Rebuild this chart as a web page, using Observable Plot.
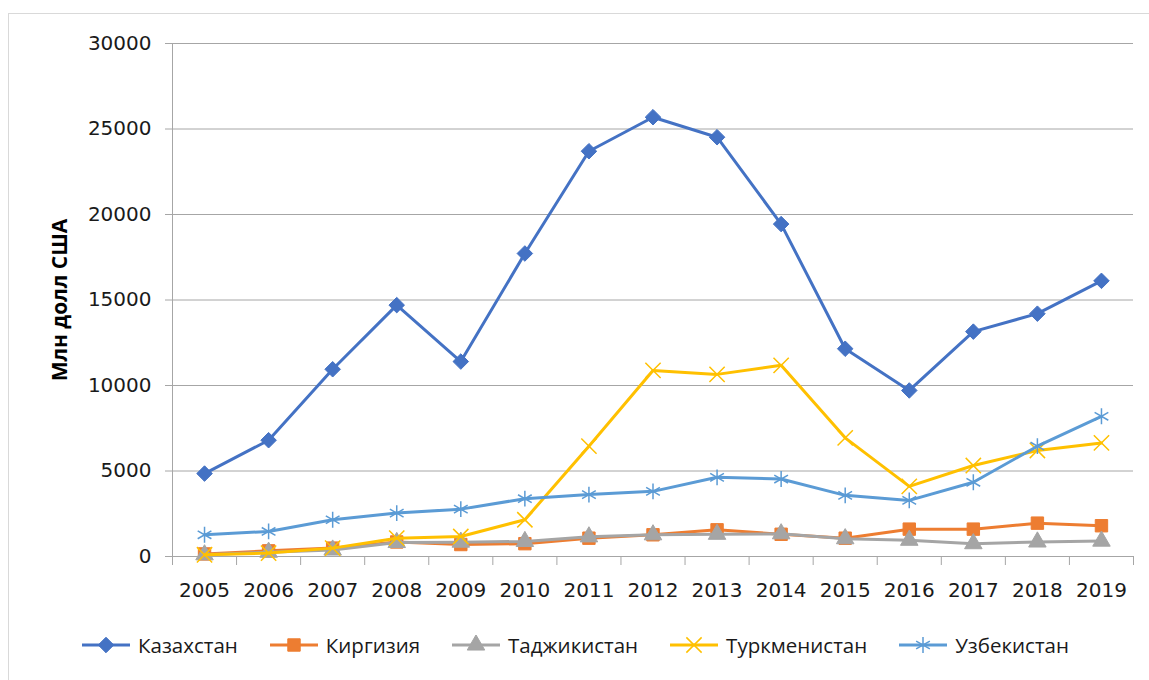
<!DOCTYPE html>
<html><head><meta charset="utf-8">
<script src="https://cdn.jsdelivr.net/npm/d3@7"></script>
<script src="https://cdn.jsdelivr.net/npm/@observablehq/plot@0.6"></script>
<style>
body{margin:0;background:#fff;font-family:"Open Sans",sans-serif;overflow:hidden;}
#frame{position:absolute;left:8px;top:13px;width:1200px;height:720px;border:1px solid #d9d9d9;}
#chart{position:absolute;left:0;top:0;}
#chart g[aria-label="y-axis label"] text{font-weight:bold;fill:#000;font-family:"Open Sans",sans-serif;font-size:21px;}
#legend{position:absolute;left:0;top:631px;width:1149px;display:flex;justify-content:center;align-items:center;font-size:20.5px;color:#1a1a1a;}
.item{display:flex;align-items:center;margin:0 15px;}
.item span{margin-left:6px;}
</style></head>
<body>
<div id="frame"></div>
<div id="chart"></div>
<div id="legend"></div>
<script>
const years = [2005,2006,2007,2008,2009,2010,2011,2012,2013,2014,2015,2016,2017,2018,2019];
const names = ["Казахстан","Киргизия","Таджикистан","Туркменистан","Узбекистан"];
const kazakhstan   = [4850,6800,10950,14700,11400,17720,23700,25690,24520,19440,12150,9710,13150,14200,16120];
const kyrgyzstan   = [150,330,490,850,700,750,1070,1270,1560,1300,1070,1600,1600,1950,1800];
const tajikistan   = [100,250,380,820,840,880,1150,1270,1300,1330,1040,950,750,850,900];
const turkmenistan = [100,200,490,1070,1170,2150,6450,10880,10650,11180,6940,4100,5320,6200,6640];
const uzbekistan   = [1270,1465,2150,2540,2770,3380,3620,3810,4630,4530,3575,3280,4340,6450,8200];
const yTicks = [0,5000,10000,15000,20000,25000,30000];

const seriesValues = [kazakhstan,kyrgyzstan,tajikistan,turkmenistan,uzbekistan];
const colors = ["#4472C4","#ED7D31","#A5A5A5","#FFC000","#5B9BD5"];
const symbols = ["diamond2","square","triangle","times","asterisk"];
const filled = [true,true,true,false,false];
const radii = [7,7,6.5,7,7.5];

const rows = names.flatMap((n,i)=>years.map((y,j)=>({country:n, year:y, value:seriesValues[i][j]})));
const bounds = years.map(y=>y-0.5).concat([years[years.length-1]+0.5]);
const grid = "#a6a6a6";
const tickFont = {fontFamily:"'DejaVu Sans', sans-serif", fontSize:20};

const marks = [
  Plot.gridY({ticks:yTicks, stroke:grid, strokeOpacity:1}),
  Plot.ruleX([bounds[0]], {stroke:grid}),
  Plot.axisY({ticks:yTicks, tickSize:7, tickPadding:14, stroke:grid, tickFormat:d=>String(d),
    ...tickFont, label:"Млн долл США", labelAnchor:"center", labelArrow:false, labelOffset:120}),
  Plot.axisX({ticks:bounds, tickSize:9, tickFormat:()=>"", stroke:grid, label:null}),
  Plot.axisX({ticks:years, tickSize:0, tickPadding:26, tickFormat:d=>String(d), label:null, ...tickFont}),
  Plot.ruleY([0], {stroke:grid})
];
names.forEach((n,i)=>{
  const d = rows.filter(r=>r.country===n);
  marks.push(Plot.line(d, {x:"year", y:"value", stroke:colors[i], strokeWidth:3}));
  marks.push(Plot.dot(d, {x:"year", y:"value", symbol:()=>symbols[i], r:radii[i],
    fill: filled[i] ? colors[i] : "none", stroke: colors[i], strokeWidth: filled[i]?1:1.5}));
});

const chart = Plot.plot({
  width:1149, height:612,
  marginLeft:172, marginRight:16, marginTop:43, marginBottom:56,
  style:{fontFamily:"'Open Sans', sans-serif", fontSize:"21px", color:"#1a1a1a", background:"transparent"},
  x:{type:"linear", domain:[bounds[0], bounds[bounds.length-1]], label:null},
  y:{domain:[0,30000]},
  symbol:{type:"identity"},
  marks
});
document.getElementById("chart").appendChild(chart);

// legend
const legend = document.getElementById("legend");
const symMap = {diamond2:d3.symbolDiamond2, square:d3.symbolSquare, triangle:d3.symbolTriangle, times:d3.symbolTimes, asterisk:d3.symbolAsterisk};
names.forEach((n,i)=>{
  const item = document.createElement("div");
  item.className = "item";
  const area = Math.PI*radii[i]*radii[i];
  const p = d3.symbol(symMap[symbols[i]], area)();
  item.innerHTML = `<svg width="52" height="20"><line x1="2" x2="50" y1="10" y2="10" stroke="${colors[i]}" stroke-width="3"/>`+
    `<path transform="translate(26,10)" d="${p}" fill="${filled[i]?colors[i]:'none'}" stroke="${colors[i]}" stroke-width="${filled[i]?1:1.5}"/></svg><span>${n}</span>`;
  legend.appendChild(item);
});
</script>
</body></html>
